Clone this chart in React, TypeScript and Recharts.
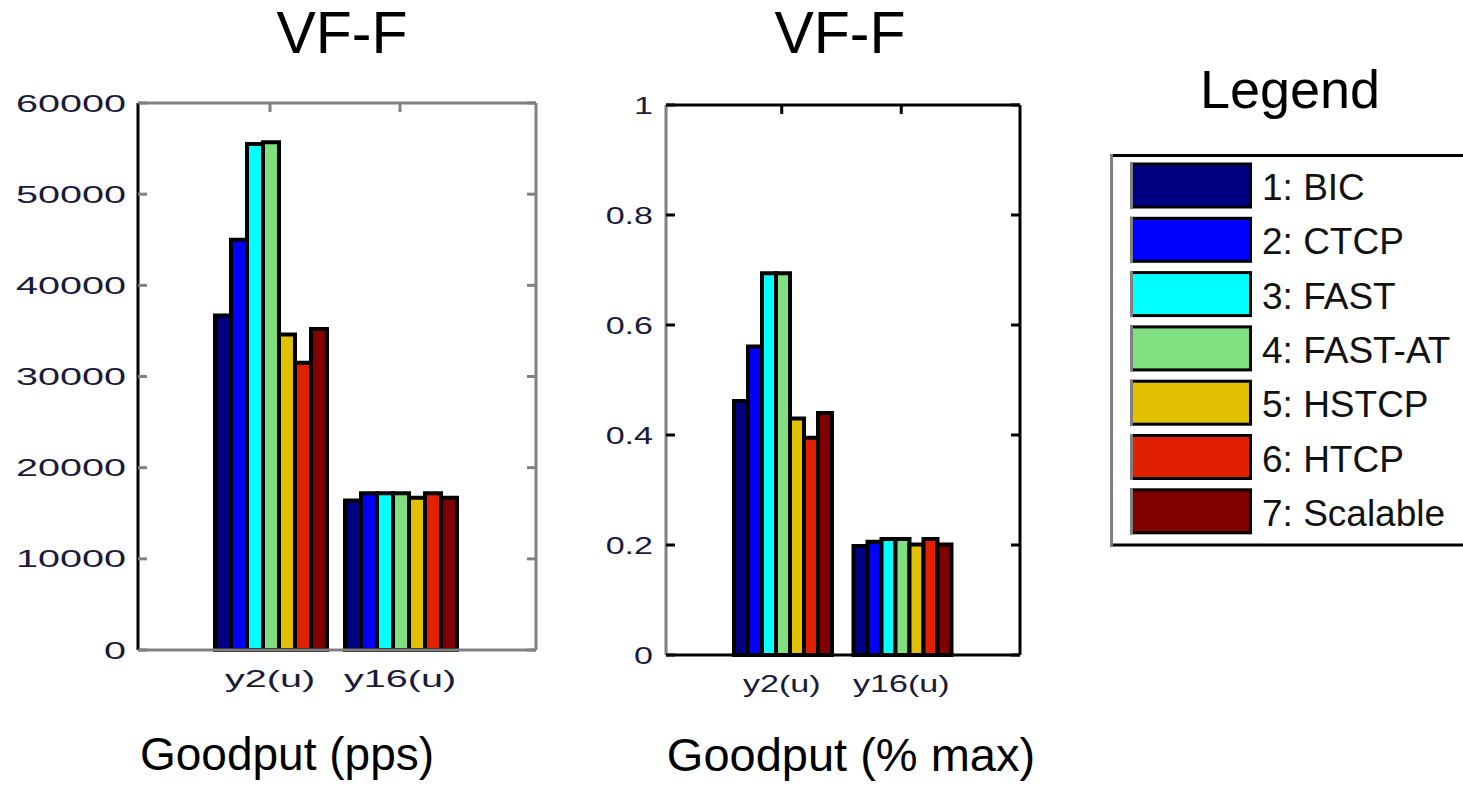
import React from "react";
import { ComposedChart, Bar, Line, XAxis, YAxis } from "recharts";

const groups = ["y2(u)", "y16(u)"];
const protocols = ["BIC", "CTCP", "FAST", "FAST-AT", "HSTCP", "HTCP", "Scalable"];
const colors = ["#000080", "#0000ff", "#00ffff", "#80e080", "#e0c000", "#e02000", "#800000"];

// goodput in packets per second
const ppsY2 = [36700, 45000, 55500, 55700, 34600, 31500, 35200];
const ppsY16 = [16400, 17200, 17200, 17200, 16700, 17200, 16700];

// goodput as fraction of max
const pctY2 = [0.462, 0.561, 0.694, 0.694, 0.43, 0.395, 0.44];
const pctY16 = [0.198, 0.206, 0.211, 0.211, 0.201, 0.211, 0.201];

const ppsTicks = [0, 10000, 20000, 30000, 40000, 50000, 60000];
const pctTicks = [0, 0.2, 0.4, 0.6, 0.8, 1];

const FONT = "'Liberation Sans', Arial, sans-serif";
const LABEL_FILL = "#1a1a3a";
const TICK_IN = -9; // negative tick size = ticks pointing into the plot

const buildRows = (a: number[], b: number[]) =>
  groups.map((g, gi) => {
    const row: Record<string, any> = { group: g };
    protocols.forEach((p, i) => {
      row[p] = (gi === 0 ? a : b)[i];
    });
    return row;
  });

const ppsRows = buildRows(ppsY2, ppsY16);
const pctRows = buildRows(pctY2, pctY16);

const fmtPct = (v: number) => (v === 0 ? "0" : v === 1 ? "1" : v.toFixed(1));

const YTick = ({ x, y, payload, sx, fmt }: any) => (
  <text
    transform={`translate(${x},${y + 8.5}) scale(${sx},1)`}
    textAnchor="end"
    fontFamily={FONT}
    fontSize={24}
    fill={LABEL_FILL}
  >
    {fmt(payload.value)}
  </text>
);

const XTick = ({ x, y, payload, sx, dy }: any) => (
  <text
    transform={`translate(${x},${y + dy}) scale(${sx},1)`}
    textAnchor="middle"
    fontFamily={FONT}
    fontSize={24}
    fill={LABEL_FILL}
  >
    {payload.value}
  </text>
);

const Empty = () => <g />;

const GoodputChart = ({ rows, ticks, domain, fmt, sx, width, yWidth, marginRight, top, bottom, padding, gap, colorsAxes, tickColor, labelMargin, labelDy }: any) => (
  <ComposedChart
    width={width}
    height={720}
    data={rows}
    margin={{ top: top - 1, right: marginRight - 1, bottom, left: 0 }}
    barGap={0}
    barCategoryGap={gap}
  >
    <XAxis
      dataKey="group"
      padding={padding}
      height={50}
      interval={0}
      tickLine={false}
      tickSize={0}
      tickMargin={0}
      axisLine={{ stroke: colorsAxes.bottom, strokeWidth: 3 }}
      tick={(p: any) => <XTick {...p} sx={sx} dy={labelDy} />}
    />
    <XAxis
      xAxisId="top"
      orientation="top"
      dataKey="group"
      padding={padding}
      height={1}
      interval={0}
      tickSize={TICK_IN}
      tickMargin={0}
      tickLine={{ stroke: tickColor, strokeWidth: 3 }}
      axisLine={{ stroke: colorsAxes.top, strokeWidth: 3 }}
      tick={<Empty />}
    />
    <YAxis
      domain={domain}
      ticks={ticks}
      width={yWidth}
      interval={0}
      tickSize={TICK_IN}
      tickMargin={labelMargin - TICK_IN}
      tickLine={{ stroke: tickColor, strokeWidth: 3 }}
      axisLine={{ stroke: colorsAxes.left, strokeWidth: 3 }}
      tick={(p: any) => <YTick {...p} sx={sx} fmt={fmt} />}
    />
    <YAxis
      yAxisId="right"
      orientation="right"
      domain={domain}
      ticks={ticks}
      allowDataOverflow
      width={1}
      interval={0}
      tickSize={TICK_IN}
      tickMargin={0}
      tickLine={{ stroke: tickColor, strokeWidth: 3 }}
      axisLine={{ stroke: colorsAxes.right, strokeWidth: 3 }}
      tick={<Empty />}
    />
    {protocols.map((p, i) => (
      <Bar key={p} dataKey={p} fill={colors[i]} stroke="#000" strokeWidth={4} isAnimationActive={false} />
    ))}
    {/* invisible series so the top/right box axes get a scale */}
    <Line
      xAxisId="top"
      yAxisId="right"
      dataKey={protocols[0]}
      stroke="none"
      dot={false}
      activeDot={false}
      legendType="none"
      isAnimationActive={false}
    />
  </ComposedChart>
);

const Legend = () => (
  <g>
    <line x1={1110} x2={1463} y1={155.5} y2={155.5} stroke="#000" strokeWidth={3} />
    <line x1={1110} x2={1463} y1={545} y2={545} stroke="#000" strokeWidth={3} />
    <line x1={1111.5} x2={1111.5} y1={154} y2={546} stroke="#808080" strokeWidth={3} />
    {protocols.map((p, i) => {
      const top = 164 + i * 54.3;
      return (
        <g key={p}>
          <rect x={1131.5} y={top} width={119} height={43} fill={colors[i]} stroke="#000" strokeWidth={3} />
          <line x1={1131.5} x2={1131.5} y1={top - 1.5} y2={top + 44.5} stroke="#808080" strokeWidth={3} />
          <text x={1262} y={top + 36} fontFamily={FONT} fontSize={37} fill="#111">
            {`${i + 1}: ${p}`}
          </text>
        </g>
      );
    })}
  </g>
);

export default function App() {
  return (
    <div style={{ position: "relative", width: 1463, height: 785, background: "#fff", overflow: "hidden" }}>
      <style>{"body{margin:0}"}</style>
      <svg width={1463} height={785} style={{ position: "absolute", left: 0, top: 0 }}>
        <text x={342} y={53} textAnchor="middle" fontFamily={FONT} fontSize={59} fill="#000">VF-F</text>
        <text x={840} y={53} textAnchor="middle" fontFamily={FONT} fontSize={59} fill="#000">VF-F</text>
        <text x={1290} y={108} textAnchor="middle" fontFamily={FONT} fontSize={54} fill="#000">Legend</text>
        <text x={287} y={770} textAnchor="middle" fontFamily={FONT} fontSize={46} fill="#000">Goodput (pps)</text>
        <text x={851} y={771} textAnchor="middle" fontFamily={FONT} fontSize={47} fill="#000">Goodput (% max)</text>
        <Legend />
      </svg>
      <div style={{ position: "absolute", left: 0, top: 0 }}>
        <GoodputChart
          rows={ppsRows}
          ticks={ppsTicks}
          domain={[0, 60000]}
          fmt={(v: number) => String(v)}
          sx={1.65}
          width={560}
          yWidth={138}
          marginRight={24}
          top={103}
          bottom={20}
          padding={{ left: 67, right: 71 }}
          gap={10}
          colorsAxes={{ left: "#000", top: "#808080", right: "#808080", bottom: "#808080" }}
          tickColor="#808080"
          labelMargin={12}
          labelDy={37}
        />
      </div>
      <div style={{ position: "absolute", left: 560, top: 0 }}>
        <GoodputChart
          rows={pctRows}
          ticks={pctTicks}
          domain={[0, 1]}
          fmt={fmtPct}
          sx={1.42}
          width={500}
          yWidth={106}
          marginRight={40}
          top={105}
          bottom={15}
          padding={{ left: 56, right: 59 }}
          gap={12}
          colorsAxes={{ left: "#808080", top: "#000", right: "#000", bottom: "#000" }}
          tickColor="#000"
          labelMargin={13}
          labelDy={37}
        />
      </div>
    </div>
  );
}
